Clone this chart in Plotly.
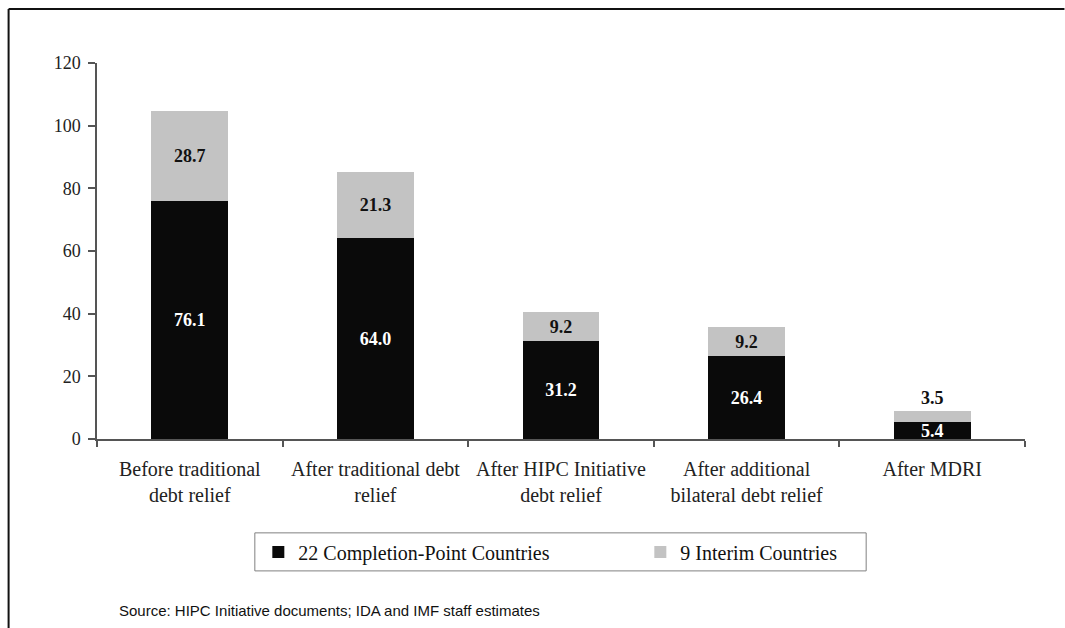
import plotly.graph_objects as go

# Debt stock of HIPCs at each stage of relief (US$ billions, end-2005 PV)
categories = [
    "Before traditional<br>debt relief",
    "After traditional debt<br>relief",
    "After HIPC Initiative<br>debt relief",
    "After additional<br>bilateral debt relief",
    "After MDRI",
]
completion_point = [76.1, 64.0, 31.2, 26.4, 5.4]
interim = [28.7, 21.3, 9.2, 9.2, 3.5]
series_names = ["22 Completion-Point Countries", "9 Interim Countries"]
y_ticks = [0, 20, 40, 60, 80, 100, 120]
source_note = "Source: HIPC Initiative documents; IDA and IMF staff estimates"

W, H = 1065, 628
M_L, M_R, M_T, M_B = 96.5, 39.5, 63, 189.3
PW, PH = W - M_L - M_R, H - M_T - M_B


def px_x(x):
    return (x - M_L) / PW


def px_y(y):
    return (H - M_B - y) / PH


SERIF = "Liberation Serif, Times New Roman, serif"

fig = go.Figure()
fig.add_trace(go.Bar(
    x=categories, y=completion_point, name=series_names[0],
    marker=dict(color="#0a0a0a", line=dict(width=0)),
    text=[f"{v:.1f}" for v in completion_point],
    textposition="inside", insidetextanchor="middle", constraintext="none",
    textfont=dict(family=SERIF, size=18, color="white", weight="bold"),
    hoverinfo="skip",
))
fig.add_trace(go.Bar(
    x=categories, y=interim, name=series_names[1],
    marker=dict(color="#c3c3c3", line=dict(width=0)),
    text=[f"{v:.1f}" for v in interim],
    textposition=["inside"] * 4 + ["outside"], insidetextanchor="middle",
    constraintext="none", cliponaxis=False,
    textfont=dict(family=SERIF, size=18, color="#111111", weight="bold"),
    hoverinfo="skip",
))

frame_line = dict(color="#111111", width=2)
shapes = [
    # outer frame: left and top edges
    dict(type="line", xref="paper", yref="paper",
         x0=px_x(8), x1=px_x(8), y0=px_y(H), y1=px_y(9), line=frame_line),
    dict(type="line", xref="paper", yref="paper",
         x0=px_x(8), x1=px_x(W), y0=px_y(9), y1=px_y(9), line=frame_line),
    # legend box
    dict(type="rect", xref="paper", yref="paper",
         x0=px_x(254.5), x1=px_x(866.5), y0=px_y(570.5), y1=px_y(532.5),
         line=dict(color="#808080", width=1), fillcolor="rgba(0,0,0,0)"),
]

fig.update_layout(
    width=W, height=H,
    margin=dict(l=M_L, r=M_R, t=M_T, b=M_B, autoexpand=False),
    paper_bgcolor="white", plot_bgcolor="white",
    barmode="stack", bargap=0.586,
    showlegend=True,
    legend=dict(
        orientation="h", xref="paper", yref="paper",
        x=px_x(258), xanchor="left", y=px_y(551.5), yanchor="middle",
        font=dict(family=SERIF, size=20, color="#111111"),
        bgcolor="rgba(0,0,0,0)", borderwidth=0,
        entrywidth=337, entrywidthmode="pixels", traceorder="normal",
    ),
    xaxis=dict(
        type="category", showline=True, linecolor="#555555", linewidth=1.5,
        ticks="outside", tickson="boundaries", ticklen=6, tickwidth=1.5,
        tickcolor="#555555", showgrid=False, zeroline=False,
        tickfont=dict(family=SERIF, size=20, color="#222222"),
        ticklabelstandoff=11,
    ),
    yaxis=dict(
        range=[0, 120], tickvals=y_ticks, showline=True, linecolor="#555555",
        linewidth=1.5, ticks="outside", ticklen=7, tickwidth=1.5,
        tickcolor="#555555", showgrid=False, zeroline=False,
        tickfont=dict(family=SERIF, size=18, color="#222222"),
        ticklabelstandoff=4,
    ),
    shapes=shapes,
    annotations=[dict(
        text=source_note, xref="paper", yref="paper",
        x=px_x(117), y=px_y(610), xanchor="left", yanchor="middle",
        showarrow=False, font=dict(family="Liberation Sans, Arial, sans-serif",
                                   size=15, color="#111111"),
    )],
)

fig.write_html("out.html")
